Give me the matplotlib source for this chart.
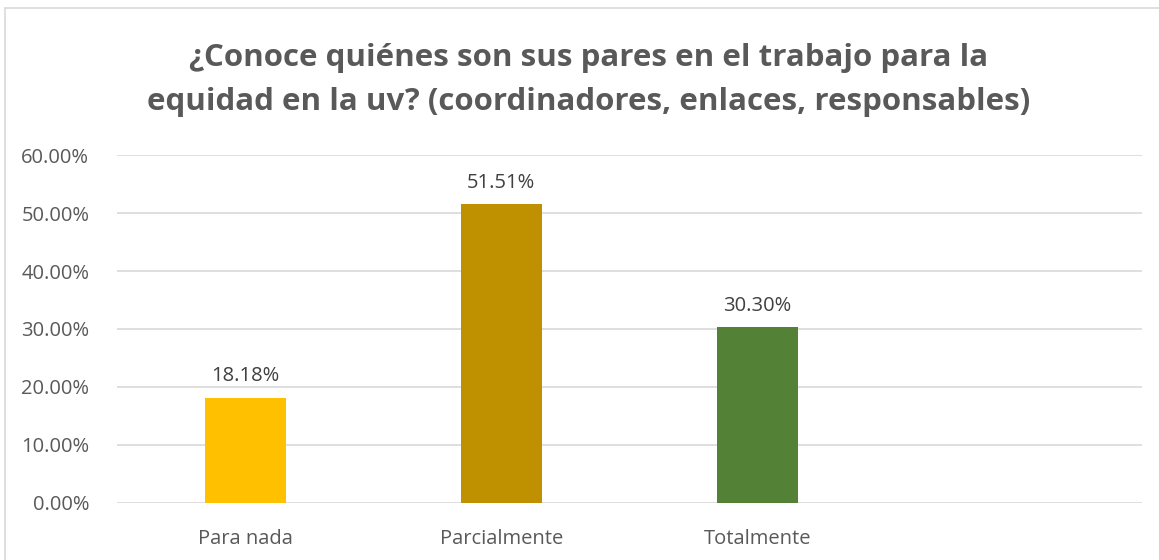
import matplotlib.pyplot as plt
from matplotlib.patches import Rectangle

# Datos
categorias = ['Para nada', 'Parcialmente', 'Totalmente', '']
valores = [18.18, 51.51, 30.30, 0]
colores = ['#FFC000', '#BF9000', '#538135', '#FFFFFF']
ticks_y = [0, 10, 20, 30, 40, 50, 60]

titulo = '¿Conoce quiénes son sus pares en el trabajo para la\nequidad en la uv? (coordinadores, enlaces, responsables)'

plt.rcParams['font.family'] = ['Open Sans', 'DejaVu Sans']
gris = '#595959'

fig = plt.figure(figsize=(11.59, 5.6), dpi=100)
ax = fig.add_axes([0.101, 0.1018, 0.884, 0.6214])

x = list(range(len(categorias)))
barras = ax.bar(x, valores, width=0.316, color=colores, zorder=3)

# Etiquetas de valor (sin la categoría vacía)
for i, v in enumerate(valores[:3]):
    ax.text(x[i], v + 2.0, f'{v:.2f}%', ha='center', va='bottom', fontsize=14.5, color='#404040')

ax.set_xlim(-0.5, 3.5)
ax.set_ylim(0, 60)
ax.set_yticks(ticks_y)
ax.set_yticklabels([f'{t:.2f}%' for t in ticks_y], fontsize=14.5, color=gris)
ax.set_xticks(x)
ax.set_xticklabels(categorias, fontsize=14.5, color=gris)
ax.tick_params(axis='x', length=0, pad=19)
ax.tick_params(axis='y', length=0, pad=20)
ax.grid(axis='y', color='#D9D9D9', linewidth=1.2, zorder=0)
for s in ax.spines.values():
    s.set_visible(False)

fig.text(0.508, 0.857, titulo, ha='center', va='center', fontsize=22.5, fontweight='bold',
         color=gris, linespacing=1.62)

# Borde del gráfico
fig.patches.append(Rectangle((0.004, -0.01), 1.0, 0.996, transform=fig.transFigure,
                             fill=False, edgecolor='#D9D9D9', linewidth=1.2))

fig.savefig('out.png', dpi=100)
